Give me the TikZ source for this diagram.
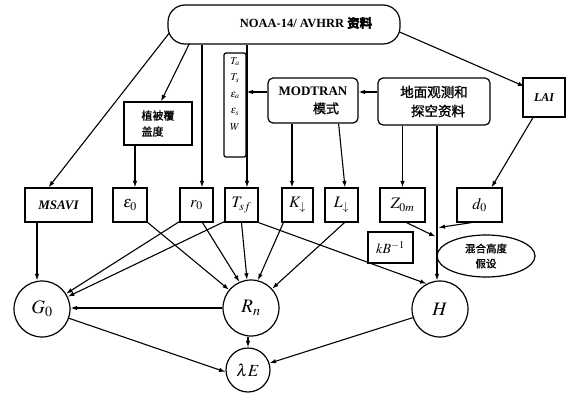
\documentclass[tikz,border=0pt]{standalone}
\usepackage{mathptmx}
\usepackage{fontspec}
\setmainfont{Liberation Serif}
\newfontfamily\cjk{Noto Sans CJK SC}[FakeBold=1.2]
\usetikzlibrary{arrows.meta,calc,shapes.geometric}
\begin{document}
\begin{tikzpicture}[x=1pt,y=-1pt,
  bx/.style={draw, line width=1.2pt, inner sep=0pt, minimum height=34pt},
  rbx/.style={draw, line width=1.2pt, inner sep=0pt, rounded corners=5pt},
  circ/.style={draw, line width=1.2pt, circle, inner sep=0pt, minimum size=56pt, font=\fontsize{19}{22}\selectfont},
  mlab/.style={font=\fontsize{16}{18}\selectfont},
  arr/.style={-{Latex[length=6.5pt,width=4.5pt]}, line width=1.1pt},
  ln/.style={line width=1.1pt}]
\useasboundingbox (0,0) rectangle (572,393);

% top source
\node[draw, line width=1.2pt, rounded corners=17pt, minimum width=232pt, minimum height=39pt, inner sep=0pt] (top) at (284,24.5) {};
\node[font=\fontsize{12.5}{14}\selectfont\bfseries] (toptxt) at (306,23) {NOAA-14/ AVHRR {\cjk 资料}};

% second level
\node[bx, minimum width=68pt, minimum height=43pt, align=left, font=\fontsize{11}{16}\selectfont\cjk] (veg) at (158,123.5) {植被覆\\盖度};
\node[draw, line width=1.2pt, rounded corners=2pt, minimum width=22pt, minimum height=104pt, inner sep=0pt] (tall) at (235,105) {};
\node[align=center, anchor=north, inner sep=0pt, font=\fontsize{10.5}{16.5}\selectfont] (tallt) at (235,57) {$T_a$\\$T_s$\\$\varepsilon_a$\\$\varepsilon_s$\\$W$};
\node[rbx, minimum width=90pt, minimum height=45pt, align=center, font=\fontsize{13}{18}\selectfont\bfseries] (modtran) at (313,100.5) {MODTRAN\\\hspace*{26pt}{\cjk\mdseries 模式}};
\node[rbx, minimum width=112pt, minimum height=47pt, align=center, font=\fontsize{13.5}{19}\selectfont\cjk] (ground) at (434,101.5) {地面观测和\\\hspace*{8pt}探空资料};
\node[bx, minimum width=42pt, minimum height=39pt, font=\fontsize{12}{14}\selectfont\bfseries\itshape] (lai) at (544,97.5) {LAI};

% third level
\node[bx, minimum width=67pt, font=\fontsize{13}{15}\selectfont\bfseries\itshape] (msavi) at (58.5,205) {MSAVI};
\node[bx, minimum width=34pt, mlab] (e0) at (130,205) {$\varepsilon_0$};
\node[bx, minimum width=33pt, mlab] (r0) at (196.5,205) {$r_0$};
\node[bx, minimum width=33pt, mlab] (tsf) at (241.5,205) {$T_{sf}$};
\node[bx, minimum width=31pt, mlab] (kd) at (297.5,205) {$K_{\downarrow}$};
\node[bx, minimum width=33pt, mlab] (ld) at (341.5,205) {$L_{\downarrow}$};
\node[bx, minimum width=45pt, mlab] (z0m) at (402.5,205) {$Z_{0m}$};
\node[bx, minimum width=45pt, mlab] (d0) at (479.5,205) {$d_0$};
\node[bx, minimum width=45pt, minimum height=31pt, font=\fontsize{14}{16}\selectfont] (kb) at (390.5,247.5) {$kB^{-1}$};
\node[draw, line width=1.2pt, ellipse, minimum width=98pt, minimum height=42pt, inner sep=0pt, align=center, font=\fontsize{10.5}{15}\selectfont\cjk] (blend) at (486,256) {混合高度\\假设};

% circles
\node[circ] (G0) at (42,309) {$G_0$};
\node[circ] (Rn) at (251,308) {$R_n$};
\node[circ] (H) at (440,309) {$H$};
\node[circ, minimum size=44pt, font=\fontsize{17}{20}\selectfont] (lE) at (248,370) {$\lambda E$};

% helper coordinates
\coordinate (r0in) at ($(r0.north)+(5.5,0)$);
\coordinate (tsfin) at ($(tsf.north)+(5.5,0)$);
\coordinate (kin) at ($(kd.north)+(-5.5,0)$);
\coordinate (vein) at ($(e0.north)+(5,0)$);
\coordinate (mg) at ($(msavi.south)+(-21.5,0)$);
\coordinate (gh) at ($(ground.south)+(3,0)$);
\coordinate (jz) at ($(gh |- z0m.south)+(-1.5,14)$);
\coordinate (jd) at ($(gh |- d0.south)+(1.5,5)$);

% connectors from the top source
\draw[arr] ($(top.west)+(1.5,9)$) -- ($(msavi.north)+(-10,0)$);
\draw[arr] ($(top.south west)+(22,-1)$) -- ($(veg.north)+(3,0)$);
\draw[arr] (r0in |- top.south) -- (r0in);
\draw[arr] (tsfin |- top.south) -- (tsfin);
\draw[arr] ($(top.east)+(-1,7.5)$) -- ($(lai.north west)+(2,9)$);

% MODTRAN / ground data
\draw[arr] ($(ground.west)+(0,-9.5)$) -- ($(modtran.east)+(0,-8.5)$);
\draw[arr] ($(modtran.west)+(0,-8.5)$) -- (tall.east |- {$(modtran.west)+(0,-8.5)$});
\draw[arr] (kin |- modtran.south) -- (kin);
\draw[arr] ($(modtran.south east)+(-20,0)$) -- ($(ld.north)+(3.5,0)$);
\draw[arr] (z0m.north |- ground.south) -- (z0m.north);
\draw[arr] (gh) -- (gh |- H.north);
\draw[arr] ($(z0m.south)+(4,0)$) -- (jz);
\draw[arr] ($(d0.south)+(-8,0)$) -- (jd);
\draw[arr] ($(lai.south)+(-11,0)$) -- ($(d0.north)+(12,0)$);
\draw[arr] (vein |- veg.south) -- (vein);

% into circles
\draw[arr] (mg) -- (mg |- G0.north);
\draw[arr] ($(e0.south east)+(-1,-1)$) -- (Rn);
\draw[arr] ($(r0.south west)+(0,-1)$) -- (G0);
\draw[arr] ($(r0.south)+(6,0)$) -- (Rn.114);
\draw[arr] ($(tsf.south west)+(0,-1)$) -- (G0);
\draw[arr] (tsf.south) -- (Rn.98);
\draw[arr] (tsf.south east) -- (H.118);
\draw[arr] ($(kd.south west)+(2,0)$) -- (Rn.76);
\draw[arr] ($(ld.south)+(3,0)$) -- (Rn);
\draw[arr] (Rn.west) -- (Rn.west -| G0.east);
\draw[arr] (lE.north |- Rn.south) -- (lE.north);
\draw[arr] (G0) -- (lE.185);
\draw[arr] (H) -- (lE);
\end{tikzpicture}
\end{document}
